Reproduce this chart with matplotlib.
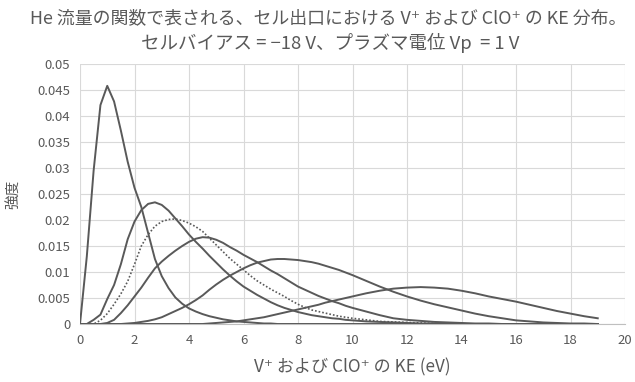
import matplotlib
matplotlib.use('Agg')
import matplotlib.pyplot as plt

plt.rcParams['font.family'] = ['Noto Sans CJK JP', 'DejaVu Sans']

# KE (eV): 0.25 steps up to 10, 0.5 steps after
ke = [0, 0.25, 0.5, 0.75, 1.0, 1.25, 1.5, 1.75, 2.0, 2.25,
      2.5, 2.75, 3.0, 3.25, 3.5, 3.75, 4.0, 4.25, 4.5, 4.75,
      5.0, 5.25, 5.5, 5.75, 6.0, 6.25, 6.5, 6.75, 7.0, 7.25,
      7.5, 7.75, 8.0, 8.25, 8.5, 8.75, 9.0, 9.25, 9.5, 9.75,
      10, 10.5, 11, 11.5, 12, 12.5, 13, 13.5, 14, 14.5,
      15, 15.5, 16, 16.5, 17, 17.5, 18, 18.5, 19]

curve_a = [0, 0.013, 0.0295, 0.0421, 0.0458, 0.0428, 0.0372, 0.0312, 0.0262, 0.0225,
           0.0175, 0.0125, 0.0092, 0.0069, 0.0051, 0.0039, 0.003, 0.0024, 0.0019, 0.0015,
           0.0012, 0.0009, 0.0007, 0.0005, 0.0004, 0.0003, 0.0002, 0.0001, 0.0001, 0,
           0, 0, 0, 0, 0, 0, 0, 0, 0, 0,
           0, 0, 0, 0, 0, 0, 0, 0, 0, 0,
           0, 0, 0, 0, 0, 0, 0, 0, 0]
curve_b = [0, 0, 0.0008, 0.0018, 0.0048, 0.0075, 0.0115, 0.0163, 0.0197, 0.0219,
           0.0231, 0.0234, 0.0229, 0.0218, 0.0203, 0.0188, 0.0172, 0.0158, 0.0145, 0.0131,
           0.0118, 0.0105, 0.0093, 0.0082, 0.0072, 0.0064, 0.0056, 0.0049, 0.0042, 0.0036,
           0.0031, 0.0027, 0.0023, 0.002, 0.0017, 0.0015, 0.0013, 0.0011, 0.001, 0.0008,
           0.0007, 0.0005, 0.0004, 0.0003, 0.0002, 0.0001, 0.0001, 0, 0, 0,
           0, 0, 0, 0, 0, 0, 0, 0, 0]
curve_dot = [0, 0, 0, 0.0007, 0.002, 0.0038, 0.0058, 0.0082, 0.0115, 0.015,
             0.0172, 0.0188, 0.0197, 0.0201, 0.0202, 0.0199, 0.0194, 0.0187, 0.0178, 0.0165,
             0.0152, 0.0139, 0.0126, 0.0115, 0.0104, 0.0093, 0.0083, 0.0075, 0.0067, 0.006,
             0.0053, 0.0045, 0.0038, 0.0032, 0.0027, 0.0024, 0.0021, 0.0018, 0.0015, 0.0013,
             0.0011, 0.0008, 0.0005, 0.0004, 0.0003, 0.0002, 0.0001, 0, 0, 0,
             0, 0, 0, 0, 0, 0, 0, 0, 0]
curve_c = [0, 0, 0, 0, 0.0002, 0.0008, 0.0021, 0.0036, 0.0053, 0.007,
           0.0089, 0.0107, 0.012, 0.0131, 0.0141, 0.015, 0.0158, 0.0164, 0.0167, 0.0166,
           0.0162, 0.0156, 0.0148, 0.0141, 0.0133, 0.0126, 0.0119, 0.0111, 0.0103, 0.0096,
           0.0088, 0.008, 0.0072, 0.0066, 0.006, 0.0054, 0.0049, 0.0044, 0.004, 0.0035,
           0.0031, 0.0024, 0.0017, 0.0011, 0.0008, 0.0006, 0.0004, 0.0003, 0.0002, 0.0001,
           0.0001, 0, 0, 0, 0, 0, 0, 0, 0]
curve_d = [0, 0, 0, 0, 0, 0, 0, 0.0001, 0.0002, 0.0004,
           0.0006, 0.0009, 0.0013, 0.0019, 0.0025, 0.0031, 0.0038, 0.0046, 0.0055, 0.0066,
           0.0076, 0.0085, 0.0093, 0.01, 0.0107, 0.0113, 0.0118, 0.0121, 0.0124, 0.0125,
           0.0125, 0.0124, 0.0123, 0.0121, 0.0119, 0.0116, 0.0112, 0.0108, 0.0104, 0.0099,
           0.0094, 0.0083, 0.0072, 0.0062, 0.0053, 0.0045, 0.0038, 0.0032, 0.0026, 0.002,
           0.0015, 0.0011, 0.0007, 0.0005, 0.0003, 0.0002, 0.0001, 0.0001, 0]
curve_e = [0, 0, 0, 0, 0, 0, 0, 0, 0, 0,
           0, 0, 0, 0, 0, 0, 0, 0, 0, 0.0001,
           0.0002, 0.0003, 0.0004, 0.0005, 0.0007, 0.0009, 0.0011, 0.0013, 0.0016, 0.0019,
           0.0022, 0.0025, 0.0028, 0.0031, 0.0034, 0.0037, 0.0041, 0.0044, 0.0047, 0.005,
           0.0053, 0.0059, 0.0064, 0.0068, 0.007, 0.0071, 0.007, 0.0068, 0.0064, 0.0059,
           0.0053, 0.0048, 0.0043, 0.0037, 0.0031, 0.0025, 0.002, 0.0015, 0.0011]

yticks = [0, 0.005, 0.01, 0.015, 0.02, 0.025, 0.03, 0.035, 0.04, 0.045, 0.05]
ytick_labels = ['0', '0.005', '0.01', '0.015', '0.02', '0.025', '0.03', '0.035', '0.04', '0.045', '0.05']
xticks = [0, 2, 4, 6, 8, 10, 12, 14, 16, 18, 20]

title1 = 'He 流量の関数で表される、セル出口における V⁺ および ClO⁺ の KE 分布。'
title2 = 'セルバイアス = −18 V、プラズマ電位 Vp  = 1 V'

line_col = '#595959'
text_col = '#595959'

fig = plt.figure(figsize=(6.35, 3.82), dpi=100)
ax = fig.add_axes([80/635, 1-324/382, 545/635, 260/382])

for ys in [curve_a, curve_b, curve_c, curve_d, curve_e]:
    ax.plot(ke, ys, color=line_col, lw=1.4, solid_joinstyle='round', zorder=3)
ax.plot(ke, curve_dot, color=line_col, lw=1.2, ls=(0, (1, 1.2)), zorder=3)

ax.set_xlim(0, 20)
ax.set_ylim(0, 0.05)
ax.set_xticks(xticks)
ax.set_xticklabels([str(t) for t in xticks])
ax.set_yticks(yticks)
ax.set_yticklabels(ytick_labels)
ax.tick_params(length=0, labelsize=9.5, colors=text_col, pad=7)
ax.grid(True, color='#d9d9d9', lw=0.8, zorder=0)
for s in ['top', 'right', 'left']:
    ax.spines[s].set_visible(False)
ax.spines['bottom'].set_color('#bfbfbf')

ax.set_xlabel('V⁺ および ClO⁺ の KE (eV)', fontsize=12.3, color=text_col, labelpad=8)
ax.set_ylabel('強度', fontsize=10.5, color=text_col, labelpad=12)

fig.text(30/635, 1-18/382, title1, fontsize=12.9, color=text_col, ha='left', va='center')
fig.text(330/635, 1-43/382, title2, fontsize=13.3, color=text_col, ha='center', va='center')

fig.savefig('out.png', dpi=100)
